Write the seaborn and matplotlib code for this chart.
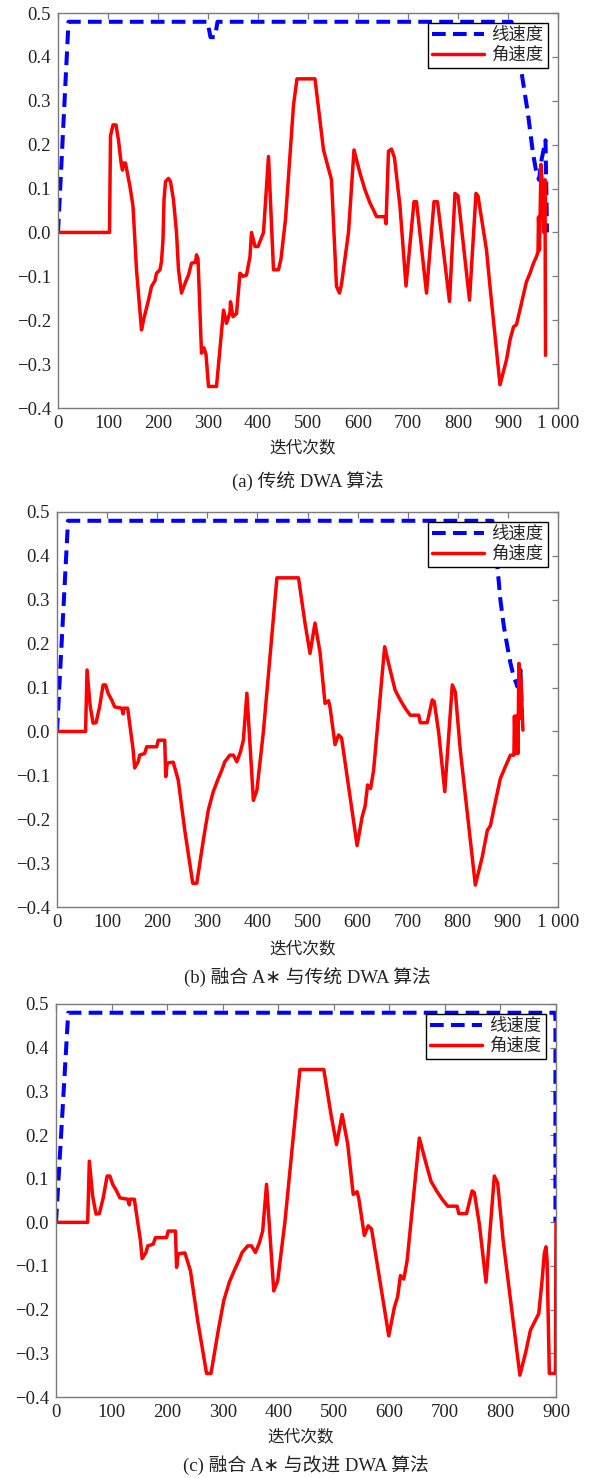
import matplotlib
matplotlib.use("Agg")
import matplotlib.pyplot as plt
import seaborn as sns
import pandas as pd

# (a) 传统 DWA
va_x = [0, 21, 299, 305, 314, 319, 907, 925, 940, 950, 957, 962, 967, 975, 978]
va_y = [0.0, 0.48, 0.48, 0.445, 0.445, 0.48, 0.48, 0.38, 0.27, 0.18, 0.135, 0.12, 0.165, 0.21, 0.0]
wa_x = [0, 103, 105, 110, 116, 121, 126, 129, 131, 135, 144, 150, 157, 167, 171, 181, 187, 194,
        197, 204, 207, 210, 212, 215, 221, 225, 231, 237, 241, 247, 254, 261, 267, 275, 277, 280,
        287, 292, 296, 301, 317, 331, 337, 344, 345, 350, 357, 364, 370, 377, 384, 387, 394, 400,
        411, 421, 431, 441, 446, 455, 471, 478, 514, 531, 538, 547, 557, 563, 567, 581, 592, 604,
        614, 624, 631, 637, 654, 656, 661, 667, 673, 684, 696, 712, 717, 737, 752, 759, 783, 794,
        800, 823, 836, 840, 857, 864, 884, 897, 904, 911, 917, 927, 937, 944, 951, 957, 960, 961,
        963, 966, 969, 972, 974, 975]
wa_y = [0.0, 0.0, 0.22, 0.245, 0.245, 0.21, 0.16, 0.142, 0.158, 0.158, 0.104, 0.06, -0.085, -0.222,
        -0.2, -0.154, -0.123, -0.11, -0.093, -0.085, -0.066, -0.017, 0.074, 0.116, 0.123, 0.116,
        0.074, 0.0, -0.085, -0.138, -0.116, -0.097, -0.07, -0.068, -0.051, -0.06, -0.275, -0.263,
        -0.278, -0.351, -0.351, -0.177, -0.207, -0.182, -0.158, -0.192, -0.185, -0.093, -0.10,
        -0.097, -0.055, 0.0, -0.032, -0.032, 0.0, 0.173, -0.085, -0.085, -0.06, 0.03, 0.29, 0.35,
        0.35, 0.188, 0.158, 0.12, -0.123, -0.138, -0.118, 0.0, 0.188, 0.135, 0.097, 0.067, 0.051,
        0.036, 0.036, 0.02, 0.185, 0.19, 0.17, 0.059, -0.122, 0.07, 0.07, -0.138, 0.07, 0.07,
        -0.157, 0.089, 0.083, -0.154, 0.089, 0.083, -0.04, -0.123, -0.347, -0.29, -0.245, -0.215,
        -0.21, -0.161, -0.112, -0.093, -0.07, -0.055, -0.045, 0.035, -0.04, 0.155, 0.1, 0.0, 0.12,
        -0.28]

# (b)/(c) 融合 A* 的角速度公共部分
wbc_x = [0, 57, 60, 66, 72, 78, 85, 92, 97, 102, 109, 115, 129, 132, 133, 141, 152, 155, 162,
         165, 175, 179, 199, 202, 215, 217, 220, 232, 242, 255, 271, 279, 292, 302, 312, 322, 329,
         335, 345, 352, 359, 366, 372, 379, 392, 399, 412, 439, 482, 495, 505, 515, 525, 535, 542,
         545, 555, 562, 568, 599, 609, 615, 620, 626, 632, 654, 665, 675, 685, 695, 705, 722, 725,
         739, 749, 753, 762, 774, 789, 795, 805, 835]
wbc_y = [0.0, 0.0, 0.14, 0.06, 0.019, 0.02, 0.056, 0.106, 0.106, 0.087, 0.072, 0.056, 0.053, 0.04,
         0.053, 0.053, -0.042, -0.083, -0.069, -0.054, -0.05, -0.035, -0.035, -0.02, -0.02, -0.103,
         -0.072, -0.07, -0.111, -0.225, -0.346, -0.346, -0.248, -0.179, -0.137, -0.107, -0.088,
         -0.069, -0.054, -0.054, -0.069, -0.047, -0.02, 0.087, -0.157, -0.134, 0.0, 0.35, 0.35,
         0.247, 0.178, 0.247, 0.18, 0.064, 0.07, 0.055, -0.03, -0.008, -0.015, -0.26, -0.195,
         -0.17, -0.122, -0.13, -0.088, 0.193, 0.14, 0.094, 0.072, 0.053, 0.037, 0.037, 0.02, 0.02,
         0.072, 0.068, -0.004, -0.137, 0.106, 0.09, -0.043, -0.35]

# (b) 融合 A* 与传统 DWA
vb_x = [0, 22, 869, 879, 885, 892, 899, 905, 911, 919, 925, 927, 928]
vb_y = [0.0, 0.48, 0.48, 0.376, 0.30, 0.239, 0.193, 0.156, 0.128, 0.102, 0.14, 0.072, 0.04]
wb_tail_x = [849, 859, 865, 875, 885, 895, 905, 912, 913, 915, 917, 919, 920, 922, 924, 926, 928, 930]
wb_tail_y = [-0.285, -0.225, -0.215, -0.16, -0.107, -0.08, -0.054, -0.054, 0.035, -0.05, 0.035,
             0.035, -0.05, 0.155, 0.03, 0.12, 0.06, 0.003]

# (c) 融合 A* 与改进 DWA
vc_x = [0, 22, 898, 899, 899]
vc_y = [0.0, 0.48, 0.48, 0.47, 0.0]
wc_tail_x = [845, 854, 863, 869, 875, 879, 882, 884, 888, 899, 900]
wc_tail_y = [-0.3, -0.247, -0.224, -0.209, -0.132, -0.071, -0.056, -0.09, -0.346, -0.346, 0.0]

panels = [
    dict(v=(va_x, va_y), w=(wa_x, wa_y), xmax=1000,
         caption="(a) 传统 DWA 算法", box=[58, 13, 558, 408], lab=448.5, cap=481.5),
    dict(v=(vb_x, vb_y), w=(wbc_x + wb_tail_x, wbc_y + wb_tail_y), xmax=1000,
         caption="(b) 融合 A∗ 与传统 DWA 算法", box=[57, 512, 558, 907], lab=949, cap=977.5),
    dict(v=(vc_x, vc_y), w=(wbc_x + wc_tail_x, wbc_y + wc_tail_y), xmax=900,
         caption="(c) 融合 A∗ 与改进 DWA 算法", box=[56, 1004, 556, 1397], lab=1437.5, cap=1466),
]

sns.set_theme(style="white")
fonts = ["Liberation Serif", "Noto Sans CJK SC", "DejaVu Sans"]
plt.rcParams["font.family"] = fonts
plt.rcParams["axes.unicode_minus"] = True

W, H = 590, 1478
fig = plt.figure(figsize=(W / 100, H / 100), dpi=100)
fig.patch.set_facecolor("white")

yticks = [-0.4, -0.3, -0.2, -0.1, 0.0, 0.1, 0.2, 0.3, 0.4, 0.5]
ylabels = [f"{t:.1f}".replace("-", "\u2212") for t in yticks]

for p in panels:
    x0, y0, x1, y1 = p["box"]
    ax = fig.add_axes([x0 / W, 1 - y1 / H, (x1 - x0) / W, (y1 - y0) / H])
    dv = pd.DataFrame({"x": p["v"][0], "y": p["v"][1]})
    dw = pd.DataFrame({"x": p["w"][0], "y": p["w"][1]})
    sns.lineplot(data=dv, x="x", y="y", ax=ax, color="#0000ff", lw=2.9,
                 estimator=None, sort=False, label="线速度")
    sns.lineplot(data=dw, x="x", y="y", ax=ax, color="#ff0000", lw=2.5,
                 estimator=None, sort=False, label="角速度")
    ax.lines[0].set_linestyle((0, (3.4, 1.8)))
    ax.set_xlim(0, p["xmax"])
    ax.set_ylim(-0.4, 0.5)
    xt = list(range(0, p["xmax"] + 1, 100))
    ax.set_xticks(xt)
    ax.set_xticklabels(["1 000" if t == 1000 else str(t) for t in xt])
    ax.set_yticks(yticks)
    ax.set_yticklabels(ylabels)
    ax.set_xlabel("")
    ax.set_ylabel("")
    for s in ax.spines.values():
        s.set_color("#7a7a7a")
        s.set_linewidth(1.0)
    ax.tick_params(direction="in", length=4, width=0.9, color="#7a7a7a",
                   top=True, right=True, labelsize=13.5, labelcolor="#222222", pad=5)
    ax.tick_params(axis="x", pad=5)
    leg = ax.legend(loc="upper right", fontsize=12, frameon=True, fancybox=False,
                    framealpha=1, edgecolor="black", handlelength=3.0,
                    borderpad=0.25, labelspacing=0.2, handletextpad=0.4,
                    borderaxespad=0.6, prop={"family": fonts, "size": 12.5})
    leg.get_frame().set_linewidth(1.0)
    cx = (x0 + x1) / 2
    fig.text((cx - 5) / W, 1 - p["lab"] / H, "迭代次数", ha="center", va="center",
             fontsize=12, color="#222222")
    fig.text(cx / W, 1 - p["cap"] / H, p["caption"], ha="center", va="center",
             fontsize=13.5, color="#222222")

fig.savefig("out.png", dpi=100, facecolor="white")
